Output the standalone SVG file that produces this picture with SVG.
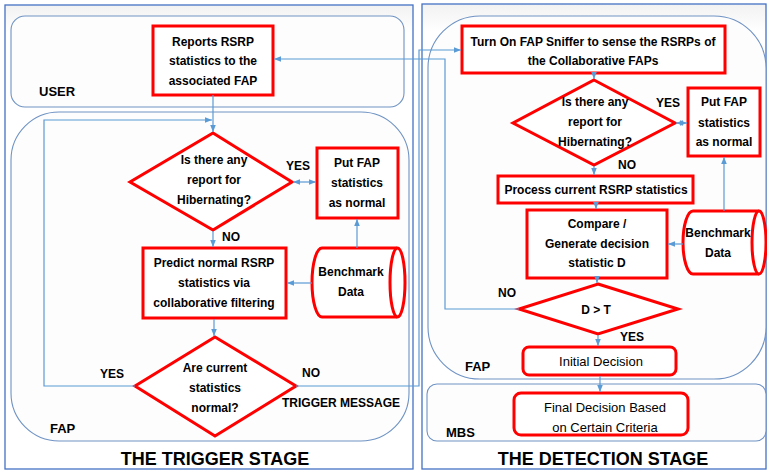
<svg xmlns="http://www.w3.org/2000/svg" width="767" height="472" viewBox="0 0 767 472">
<defs>
<marker id="ah" viewBox="0 0 10 10" refX="10" refY="5" markerWidth="7" markerHeight="7" markerUnits="userSpaceOnUse" orient="auto-start-reverse"><path d="M0,1 L10,5 L0,9 z" fill="#5B9BD5"/></marker>
<linearGradient id="bg" x1="0" y1="0" x2="0" y2="1"><stop offset="0" stop-color="#f2f2f2"/><stop offset="0.06" stop-color="#ffffff"/><stop offset="1" stop-color="#ffffff"/></linearGradient>
</defs>
<style>
.outer{fill:url(#bg);stroke:#4472C4;stroke-width:1.3}
.lane{fill:#fdfdfd;stroke:#6F93C4;stroke-width:1.1}
.box{fill:#fff;stroke:#FF0000;stroke-width:3}
.conn{fill:none;stroke:#5B9BD5;stroke-width:1.2}
.t{font-family:"Liberation Sans",Arial,sans-serif;font-weight:bold;font-size:12px;text-anchor:middle;fill:#000}
.n{font-weight:normal;font-size:13px}
.l{text-anchor:start;font-size:13px}
.title{font-size:18px}
</style>
<g id="trigger-stage">
<rect class="outer" x="5" y="5" width="408" height="464"/>
<text class="t title" x="215" y="465">THE TRIGGER STAGE</text>
</g>
<g id="detection-stage">
<rect class="outer" x="422" y="4" width="344" height="465"/>
<text class="t title" x="603" y="465">THE DETECTION STAGE</text>
</g>
<g id="user-lane">
<rect class="lane" x="11" y="16" width="393" height="91" rx="14"/>
<text class="t l" x="39" y="96">USER</text>
</g>
<g id="fap-lane-left">
<rect class="lane" x="11" y="112" width="398" height="329" rx="48"/>
<text class="t l" x="50" y="433">FAP</text>
</g>
<g id="fap-lane-right">
<rect class="lane" x="428" y="16" width="338" height="363" rx="52"/>
<text class="t l" x="465" y="371">FAP</text>
</g>
<g id="mbs-lane">
<rect class="lane" x="427" y="384" width="339" height="57" rx="10"/>
<text class="t l" x="446" y="437">MBS</text>
</g>

<g id="reports">
<rect class="box" x="153" y="26" width="120" height="69"/>
<text class="t" x="213" y="46">Reports RSRP</text>
<text class="t" x="213" y="65">statistics to the</text>
<text class="t" x="213" y="85">associated FAP</text>
</g>
<g id="hib-left">
<polygon class="box" points="213,133 292,182 213,230 130,182"/>
<text class="t" x="214" y="164">Is there any</text>
<text class="t" x="214" y="184">report for</text>
<text class="t" x="214" y="204">Hibernating?</text>
</g>
<g id="putfap-left">
<rect class="box" x="317" y="148" width="81" height="70"/>
<text class="t" x="357" y="167">Put FAP</text>
<text class="t" x="357" y="187">statistics</text>
<text class="t" x="357" y="207">as normal</text>
</g>
<g id="predict">
<rect class="box" x="143" y="248" width="143" height="70"/>
<text class="t" x="214" y="267">Predict normal RSRP</text>
<text class="t" x="214" y="287">statistics via</text>
<text class="t" x="214" y="307">collaborative filtering</text>
</g>
<g id="bench-left">
<path class="box" d="M397,248 H322 A10,34.5 0 0 0 322,317 H397"/>
<ellipse class="box" cx="397.5" cy="282.5" rx="7.5" ry="34.5"/>
<text class="t" x="351" y="276">Benchmark</text>
<text class="t" x="351" y="296">Data</text>
</g>
<g id="normal-check">
<polygon class="box" points="215,337 296,386 215,436 135,386"/>
<text class="t" x="215" y="372">Are current</text>
<text class="t" x="215" y="392">statistics</text>
<text class="t" x="215" y="412">normal?</text>
</g>

<g id="sniffer">
<rect class="box" x="462" y="26" width="263" height="47"/>
<text class="t" x="593" y="46">Turn On FAP Sniffer to sense the RSRPs of</text>
<text class="t" x="593" y="65">the Collaborative  FAPs</text>
</g>
<g id="hib-right">
<polygon class="box" points="594,80 675,123 594,165 513,123"/>
<text class="t" x="595" y="106">Is there any</text>
<text class="t" x="595" y="126">report for</text>
<text class="t" x="595" y="146">Hibernating?</text>
</g>
<g id="putfap-right">
<rect class="box" x="688" y="88" width="72" height="68"/>
<text class="t" x="724" y="106">Put FAP</text>
<text class="t" x="724" y="127">statistics</text>
<text class="t" x="724" y="146">as normal</text>
</g>
<g id="process">
<rect class="box" x="498" y="176" width="195" height="27"/>
<text class="t" x="596" y="194">Process current RSRP statistics</text>
</g>
<g id="compare">
<rect class="box" x="527" y="210" width="140" height="68"/>
<text class="t" x="597" y="228">Compare /</text>
<text class="t" x="597" y="248">Generate decision</text>
<text class="t" x="597" y="267">statistic D</text>
</g>
<g id="bench-right">
<path class="box" d="M759,211 H693 A10,31.5 0 0 0 693,274 H759"/>
<ellipse class="box" cx="759" cy="242.5" rx="7" ry="31.5"/>
<text class="t" x="718" y="237">Benchmark</text>
<text class="t" x="718" y="257">Data</text>
</g>
<g id="dt">
<polygon class="box" points="598,284 678,309 598,334 519,309"/>
<text class="t" x="596" y="314">D &gt; T</text>
</g>
<g id="initial">
<rect class="box" x="523" y="347" width="153" height="28" rx="6"/>
<text class="t n" x="601" y="366">Initial Decision</text>
</g>
<g id="final">
<rect class="box" x="514" y="393" width="174" height="42" rx="7"/>
<text class="t n" x="605" y="412">Final Decision Based</text>
<text class="t n" x="605" y="432">on Certain Criteria</text>
</g>

<g id="connectors">
<path class="conn" d="M213,95 V132" marker-end="url(#ah)"/>
<path class="conn" d="M135,386 H44 V120 H212" marker-end="url(#ah)"/>
<path class="conn" d="M293,182 H316" marker-start="url(#ah)" marker-end="url(#ah)"/>
<path class="conn" d="M213,231 V247" marker-end="url(#ah)"/>
<path class="conn" d="M312,283 H287" marker-end="url(#ah)"/>
<path class="conn" d="M357,248 V219" marker-end="url(#ah)"/>
<path class="conn" d="M214,319 V336" marker-end="url(#ah)"/>
<path class="conn" d="M296,386 H419 V50 H461" marker-end="url(#ah)"/>
<path class="conn" d="M594,74 V79" marker-end="url(#ah)"/>
<path class="conn" d="M676,123 H687" marker-start="url(#ah)" marker-end="url(#ah)"/>
<path class="conn" d="M594,166 V175" marker-end="url(#ah)"/>
<path class="conn" d="M596,204 V209" marker-end="url(#ah)"/>
<path class="conn" d="M683,244 H668" marker-end="url(#ah)"/>
<path class="conn" d="M724,211 V157" marker-end="url(#ah)"/>
<path class="conn" d="M597,279 V283" marker-end="url(#ah)"/>
<path class="conn" d="M519,309 H445 V59 H274" marker-end="url(#ah)"/>
<path class="conn" d="M598,335 V346" marker-end="url(#ah)"/>
<path class="conn" d="M600,376 V392" marker-end="url(#ah)"/>
</g>

<g id="labels">
<text class="t" x="298" y="170">YES</text>
<text class="t" x="231" y="241">NO</text>
<text class="t" x="112" y="378">YES</text>
<text class="t" x="311" y="377">NO</text>
<text class="t" x="341" y="407">TRIGGER MESSAGE</text>
<text class="t" x="668" y="107">YES</text>
<text class="t" x="627" y="169">NO</text>
<text class="t" x="507" y="297">NO</text>
<text class="t" x="632" y="341">YES</text>
</g>
</svg>
